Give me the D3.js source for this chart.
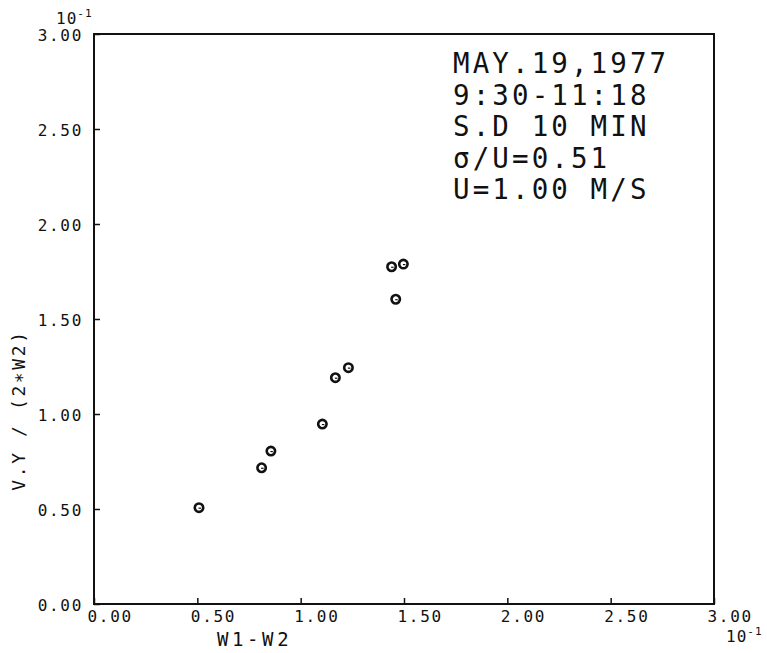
<!DOCTYPE html>
<html>
<head>
	<title>W1-W2</title>
	<meta http-equiv="Content-Type" content="text/html; charset=utf-8" />
	<script type="text/javascript" charset="utf-8" src="https://cdn.jsdelivr.net/npm/d3@7/dist/d3.min.js"></script>
	<style type="text/css">
	body {
	  margin: 0;
	  background-color: #fff;
	}
	text {
	  font-family: 'DejaVu Sans Mono', monospace;
	  fill: #111;
	}
	</style>
</head>
<body>

<svg width="767" height="653" version="1.1" xmlns="http://www.w3.org/2000/svg"></svg>

<script type="text/javascript">

// data (both axes in units of 10^-1)
var v_X      = [0.508, 0.811, 0.856, 1.105, 1.168, 1.231, 1.440, 1.460, 1.497];
var v_Y      = [0.507, 0.717, 0.805, 0.947, 1.191, 1.244, 1.775, 1.604, 1.789];
var v_Ticks  = [0.00, 0.50, 1.00, 1.50, 2.00, 2.50, 3.00];
var v_Notes  = ["MAY.19,1977", "9:30-11:18", "S.D 10 MIN", "σ/U=0.51", "U=1.00 M/S"];

var m = {left:94 ,right:714 ,top:34 ,bottom:604};

var v_SVG = d3.select("svg");

var x = d3.scaleLinear().domain([0, 3]).range([m.left, m.right]);
var y = d3.scaleLinear().domain([0, 3]).range([m.bottom, m.top]);

// frame
v_SVG.append("rect")
.attr("x" ,m.left)
.attr("y" ,m.top)
.attr("width" ,m.right - m.left)
.attr("height" ,m.bottom - m.top)
.attr("fill" ,"none")
.attr("stroke" ,"#111")
.attr("stroke-width" ,2);

// left axis, ticks inside
var v_YAxis = v_SVG.append("g")
.attr("transform" ,"translate(" + m.left + ",0)")
.call(d3.axisLeft(y).tickValues(v_Ticks).tickSizeInner(-6).tickSizeOuter(0).tickPadding(11).tickFormat(d3.format(".2f")));

v_YAxis.select(".domain").remove();
v_YAxis.selectAll("line").attr("stroke" ,"#111").attr("stroke-width" ,1.5);
v_YAxis.selectAll("text")
.attr("font-family" ,"'DejaVu Sans Mono', monospace")
.attr("font-size" ,16)
.attr("letter-spacing" ,1.7)
.attr("dy" ,"0.42em")
.attr("fill" ,"#111");

// bottom axis, ticks inside
var v_XAxis = v_SVG.append("g")
.attr("transform" ,"translate(0," + m.bottom + ")")
.call(d3.axisBottom(x).tickValues(v_Ticks).tickSizeInner(-6).tickSizeOuter(0).tickFormat(d3.format(".2f")));

v_XAxis.select(".domain").remove();
v_XAxis.selectAll("line").attr("stroke" ,"#111").attr("stroke-width" ,1.5);
v_XAxis.selectAll("text")
.attr("font-family" ,"'DejaVu Sans Mono', monospace")
.attr("font-size" ,16)
.attr("letter-spacing" ,1.7)
.attr("text-anchor" ,"start")
.attr("x" ,-7)
.attr("y" ,18)
.attr("dy" ,0)
.attr("fill" ,"#111");

// exponent labels
function addExponent(i_X ,i_Y)
{
	var v_T = v_SVG.append("text")
	.attr("x" ,i_X)
	.attr("y" ,i_Y)
	.attr("font-size" ,16)
	.attr("letter-spacing" ,1);
	v_T.append("tspan").text("10");
	v_T.append("tspan").attr("font-size" ,11).attr("dy" ,-7).text("-1");
}
addExponent(56 ,24);
addExponent(726 ,642);

// axis titles
v_SVG.append("text")
.attr("x" ,217)
.attr("y" ,646)
.attr("font-size" ,19)
.attr("letter-spacing" ,3.6)
.text("W1-W2");

v_SVG.append("text")
.attr("transform" ,"translate(25,410) rotate(-90)")
.attr("text-anchor" ,"middle")
.attr("font-size" ,18)
.attr("letter-spacing" ,2.6)
.text("V.Y / (2∗W2)");

// notes
v_SVG.append("g").selectAll("text").data(v_Notes).enter().append("text")
.attr("x" ,453)
.attr("y" ,function(d ,i) { return 73 + i * 31.5; })
.attr("font-size" ,27.5)
.attr("letter-spacing" ,3.1)
.text(function(d) { return d; });

// points
var v_Points = v_SVG.append("g").selectAll("g").data(v_X).enter().append("g")
.attr("transform" ,function(d ,i) { return "translate(" + x(d) + "," + y(v_Y[i]) + ")"; });

v_Points.append("circle")
.attr("r" ,4.2)
.attr("fill" ,"none")
.attr("stroke" ,"#111")
.attr("stroke-width" ,2.6);

v_Points.append("line")
.attr("x1" ,-0.5)
.attr("y1" ,0.5)
.attr("x2" ,2)
.attr("y2" ,0.5)
.attr("stroke" ,"#111")
.attr("stroke-width" ,1.2);

</script>

</body>
</html>
